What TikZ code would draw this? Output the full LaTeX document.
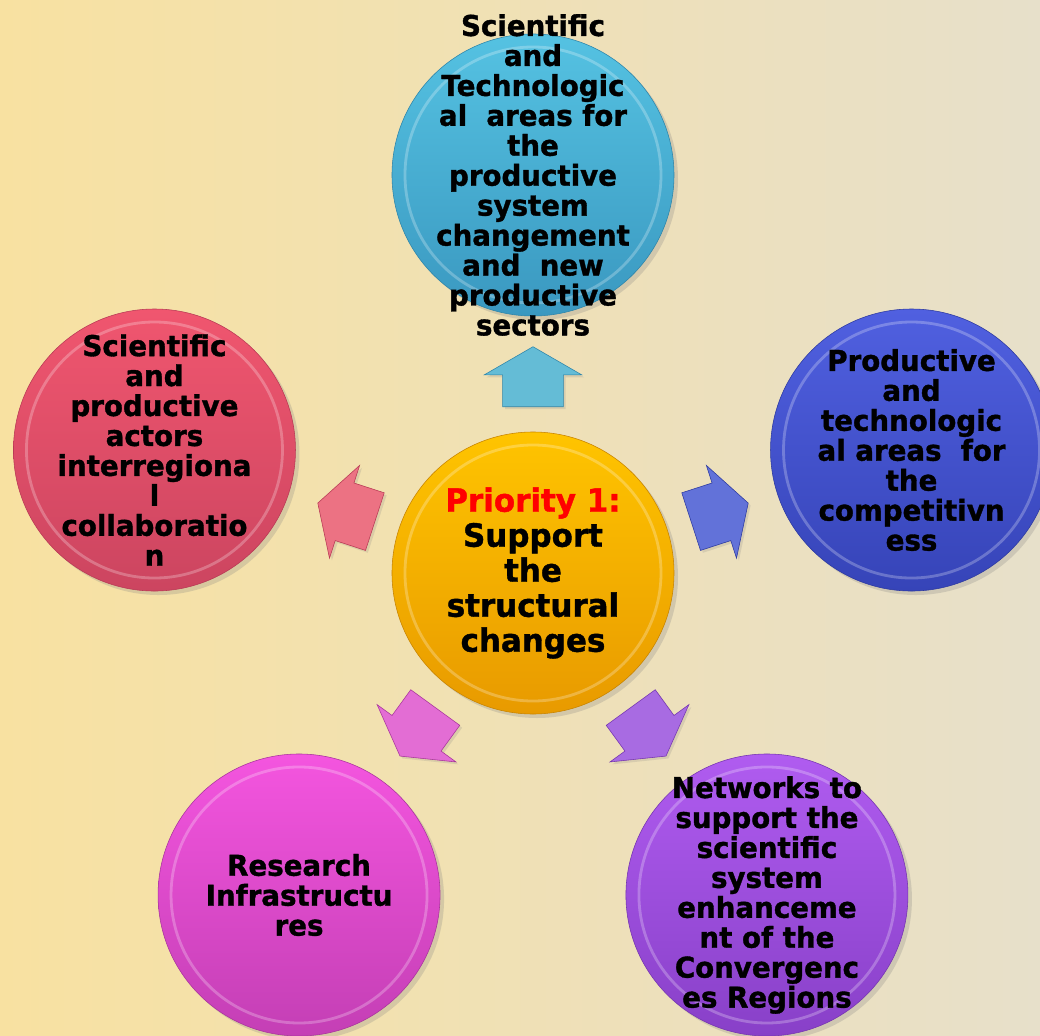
\documentclass[tikz,border=0pt]{standalone}
\usepackage{fontspec}
\setmainfont{DejaVu Sans}[FakeStretch=0.965, BoldFeatures={FakeBold=1.2}]
\usetikzlibrary{shapes.arrows,shadows}

\definecolor{bgl}{HTML}{F8E1A1}
\definecolor{bgm}{HTML}{F3E7C8}
\definecolor{bgr}{HTML}{E7E0CA}
% disc colours: top, bottom, rim, pointer
\definecolor{topcy}{HTML}{55C2E2}\definecolor{botcy}{HTML}{3A98C0}
\definecolor{rimcy}{HTML}{2E85AA}\definecolor{arrcy}{HTML}{64BCD6}
\definecolor{topre}{HTML}{F0566F}\definecolor{botre}{HTML}{CC4560}
\definecolor{rimre}{HTML}{B83A55}\definecolor{arrre}{HTML}{EC7283}
\definecolor{topbl}{HTML}{5060E0}\definecolor{botbl}{HTML}{3644B8}
\definecolor{rimbl}{HTML}{2D3AA0}\definecolor{arrbl}{HTML}{6272D9}
\definecolor{topma}{HTML}{F455DF}\definecolor{botma}{HTML}{C43FB5}
\definecolor{rimma}{HTML}{A8359C}\definecolor{arrma}{HTML}{E36DD4}
\definecolor{toppu}{HTML}{B05CF0}\definecolor{botpu}{HTML}{8840C8}
\definecolor{rimpu}{HTML}{7535B0}\definecolor{arrpu}{HTML}{A86BE2}
\definecolor{topor}{HTML}{FFC400}\definecolor{botor}{HTML}{E89A00}
\definecolor{rimor}{HTML}{C88400}

\begin{document}
\begin{tikzpicture}[x=0.25mm,y=0.25mm,
  disc/.style={circle, minimum size=70.5mm, inner sep=0pt,
    drop shadow={opacity=.25,shadow xshift=1mm,shadow yshift=-1mm},
    path picture={\draw[white,opacity=.25,line width=0.7mm]
      (path picture bounding box.center) circle (32mm);}},
  caption/.style={align=center, inner sep=0pt,
    font=\bfseries\fontsize{20.4}{21.3}\selectfont},
  pointer/.style={single arrow, single arrow tip angle=120,
    single arrow head extend=4.625mm, minimum height=15mm,
    inner xsep=0pt, inner ysep=7.5mm, anchor=tail,
    drop shadow={opacity=.2,shadow xshift=.6mm,shadow yshift=-.6mm}}]
  \useasboundingbox (-533,-462) rectangle (507,573);
  \clip (-533,-462) rectangle (507,573);
  \shade[left color=bgl, middle color=bgm, right color=bgr]
    (-533,-462) rectangle (507,573);

  \node[disc, top color=topor, bottom color=botor, draw=rimor,
    label={[caption, font=\bfseries\fontsize{22.8}{24.9}\selectfont]center:%
    {\textcolor{red}{Priority 1:}\\Support\\the\\structural\\changes}}]
    (prio) at (0,0) {};

  \foreach \ang/\n/\c/\txt in {
    90/sci/cy/{Scientific\\and\\Technologic\\al\ \ areas for\\the\\productive\\system\\changement\\and\ \ new\\productive\\sectors},
    162/act/re/{Scientific\\and\\productive\\actors\\interregiona\\l\\collaboratio\\n},
    234/infra/ma/{Research\\Infrastructu\\res},
    306/net/pu/{Networks to\\support the\\scientific\\system\\enhanceme\\nt of the\\Convergenc\\es Regions},
    18/comp/bl/{Productive\\and\\technologic\\al areas\ \ for\\the\\competitivn\\ess}}
  {
    \node[pointer, rotate=\ang, fill=arr\c, draw=rim\c] (arr\n) at (\ang:166) {};
    \node[disc, top color=top\c, bottom color=bot\c, draw=rim\c,
      label={[caption]center:{\txt}}] (\n) at (\ang:398) {};
  }
\end{tikzpicture}
\end{document}
